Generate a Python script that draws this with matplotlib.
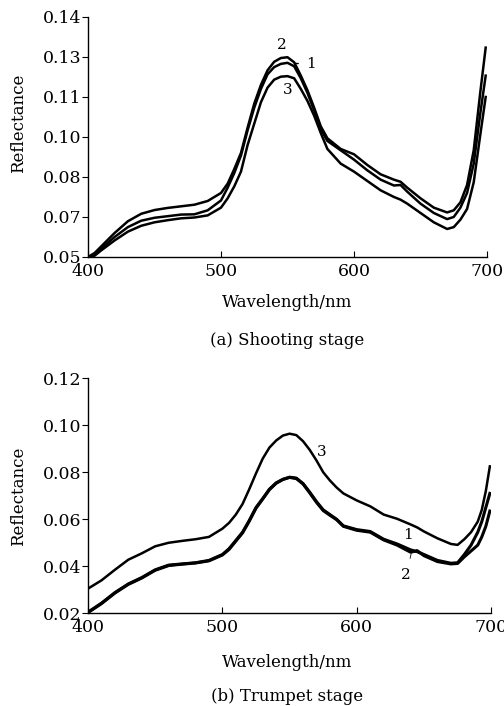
import numpy as np
import matplotlib
matplotlib.use("Agg")
from matplotlib import pyplot as plt

plt.rcParams['font.family'] = ['DejaVu Serif']

# (a) Shooting stage -- wavelength (nm) and reflectance of samples 1, 2, 3
wl_a = [400, 405, 410, 420, 430, 440, 450, 460, 470, 480, 490, 500, 505, 510,
        515, 520, 525, 530, 535, 540, 545, 550, 555, 560, 565, 570, 575, 580,
        590, 600, 610, 620, 630, 635, 640, 650, 660, 670, 675, 680, 685, 690,
        695, 699]
refl_a2 = [0.0500, 0.0515, 0.0540, 0.0590, 0.0634, 0.0662, 0.0676, 0.0684,
           0.0690, 0.0696, 0.0710, 0.0740, 0.0775, 0.0830, 0.0890, 0.0985,
           0.1075, 0.1145, 0.1200, 0.1232, 0.1246, 0.1249, 0.1230, 0.1180,
           0.1125, 0.1060, 0.0990, 0.0945, 0.0905, 0.0885, 0.0845, 0.0810,
           0.0790, 0.0782, 0.0760, 0.0720, 0.0685, 0.0667, 0.0675, 0.0705,
           0.0770, 0.0900, 0.1120, 0.1285]
refl_a1 = [0.0498, 0.0510, 0.0532, 0.0575, 0.0612, 0.0636, 0.0647, 0.0653,
           0.0659, 0.0660, 0.0675, 0.0712, 0.0760, 0.0815, 0.0880, 0.0975,
           0.1060, 0.1130, 0.1185, 0.1212, 0.1224, 0.1228, 0.1215, 0.1170,
           0.1115, 0.1050, 0.0980, 0.0935, 0.0900, 0.0865, 0.0825, 0.0790,
           0.0768, 0.0770, 0.0745, 0.0700, 0.0665, 0.0642, 0.0650, 0.0685,
           0.0740, 0.0850, 0.1040, 0.1180]
refl_a3 = [0.0495, 0.0505, 0.0525, 0.0562, 0.0595, 0.0617, 0.0630, 0.0638,
           0.0645, 0.0648, 0.0656, 0.0685, 0.0720, 0.0765, 0.0820, 0.0920,
           0.1000, 0.1080, 0.1135, 0.1165, 0.1176, 0.1178, 0.1170, 0.1130,
           0.1085, 0.1030, 0.0965, 0.0905, 0.0850, 0.0820, 0.0785, 0.0750,
           0.0725, 0.0715, 0.0700, 0.0665, 0.0630, 0.0605, 0.0612, 0.0640,
           0.0680, 0.0780, 0.0960, 0.1100]
yticks_a = [0.05, 0.065, 0.08, 0.095, 0.11, 0.125, 0.14]
ylabels_a = ['0.05', '0.07', '0.08', '0.10', '0.11', '0.13', '0.14']

# (b) Trumpet stage
wl_b = [400, 410, 420, 430, 440, 450, 460, 470, 480, 490, 500, 505, 510, 515,
        520, 525, 530, 535, 540, 545, 550, 555, 560, 565, 570, 575, 580, 585,
        590, 600, 610, 620, 630, 640, 645, 650, 660, 670, 675, 680, 685, 690,
        693, 696, 699]
refl_b3 = [0.0305, 0.0340, 0.0385, 0.0428, 0.0455, 0.0485, 0.0500, 0.0508,
           0.0515, 0.0525, 0.0560, 0.0585, 0.0620, 0.0665, 0.0728, 0.0795,
           0.0858, 0.0905, 0.0935, 0.0956, 0.0964, 0.0958, 0.0932, 0.0895,
           0.0850, 0.0800, 0.0765, 0.0735, 0.0710, 0.0680, 0.0655, 0.0620,
           0.0602, 0.0578, 0.0565, 0.0548, 0.0519, 0.0495, 0.0491, 0.0515,
           0.0545, 0.0590, 0.0640, 0.0720, 0.0825]
refl_b1 = [0.0205, 0.0243, 0.0288, 0.0325, 0.0352, 0.0385, 0.0405, 0.0410,
           0.0415, 0.0425, 0.0450, 0.0475, 0.0510, 0.0545, 0.0595, 0.0650,
           0.0688, 0.0728, 0.0755, 0.0770, 0.0779, 0.0775, 0.0752, 0.0715,
           0.0675, 0.0640, 0.0620, 0.0600, 0.0572, 0.0556, 0.0548, 0.0515,
           0.0495, 0.0470, 0.0462, 0.0450, 0.0425, 0.0413, 0.0415, 0.0450,
           0.0490, 0.0545, 0.0590, 0.0650, 0.0710]
refl_b2 = [0.0203, 0.0241, 0.0286, 0.0323, 0.0350, 0.0383, 0.0403, 0.0409,
           0.0414, 0.0423, 0.0448, 0.0472, 0.0507, 0.0542, 0.0592, 0.0647,
           0.0686, 0.0726, 0.0753, 0.0769, 0.0778, 0.0773, 0.0750, 0.0712,
           0.0672, 0.0637, 0.0617, 0.0598, 0.0570, 0.0553, 0.0545, 0.0512,
           0.0490, 0.0460, 0.0466, 0.0445, 0.0420, 0.0410, 0.0412, 0.0440,
           0.0465, 0.0490, 0.0525, 0.0570, 0.0635]
yticks_b = [0.02, 0.04, 0.06, 0.08, 0.10, 0.12]
xticks = [400, 500, 600, 700]

fig = plt.figure(figsize=(5.04, 7.06), dpi=100)
ax1 = fig.add_axes([0.1746, 0.636, 0.7917, 0.340])
ax2 = fig.add_axes([0.1746, 0.1313, 0.800, 0.333])

for ax in (ax1, ax2):
    for s in ('top', 'right'):
        ax.spines[s].set_visible(False)
    ax.spines['left'].set_linewidth(1.0)
    ax.spines['bottom'].set_linewidth(1.0)
    ax.set_xlim(400, 700)
    ax.set_xticks(xticks)
    ax.tick_params(axis='x', direction='in', length=4, labelsize=12.5, pad=4)
    ax.tick_params(axis='y', direction='out', length=4, labelsize=12.5, pad=1)

ax1.plot(wl_a, refl_a2, 'k-', lw=1.8)
ax1.plot(wl_a, refl_a1, 'k-', lw=1.8)
ax1.plot(wl_a, refl_a3, 'k-', lw=1.8)
ax1.set_ylim(0.05, 0.14)
ax1.set_yticks(yticks_a)
ax1.set_yticklabels(ylabels_a)

ax1.text(545.6, 0.1296, '2', fontsize=11, ha='center', va='center')
ax1.annotate('1', xy=(555.5, 0.1226), xytext=(568, 0.1222), fontsize=11,
             ha='center', va='center',
             arrowprops=dict(arrowstyle='-', lw=1.0, shrinkB=0, shrinkA=4))
ax1.text(550, 0.1127, '3', fontsize=11, ha='center', va='center')

ax2.plot(wl_b, refl_b3, 'k-', lw=1.8)
ax2.plot(wl_b, refl_b1, 'k-', lw=2.2)
ax2.plot(wl_b, refl_b2, 'k-', lw=2.2)
ax2.set_ylim(0.02, 0.12)
ax2.set_yticks(yticks_b)
ax2.set_yticklabels(['%.2f' % v for v in yticks_b])

ax2.text(574, 0.0888, '3', fontsize=11, ha='center', va='center')
ax2.annotate('1', xy=(646, 0.0455), xytext=(637.8, 0.0533), fontsize=11,
             ha='center', va='center',
             arrowprops=dict(arrowstyle='-', lw=0.6, shrinkB=0, shrinkA=4))
ax2.annotate('2', xy=(640.5, 0.0455), xytext=(636.8, 0.0363), fontsize=11,
             ha='center', va='center',
             arrowprops=dict(arrowstyle='-', lw=0.6, shrinkB=0, shrinkA=5))

fig.text(0.57, 0.572, 'Wavelength/nm', fontsize=12, ha='center', va='center')
fig.text(0.57, 0.518, '(a) Shooting stage', fontsize=12, ha='center', va='center')
fig.text(0.57, 0.061, 'Wavelength/nm', fontsize=12, ha='center', va='center')
fig.text(0.57, 0.014, '(b) Trumpet stage', fontsize=12, ha='center', va='center')
fig.text(0.036, 0.826, 'Reflectance', fontsize=12, rotation=90, ha='center', va='center')
fig.text(0.036, 0.2977, 'Reflectance', fontsize=12, rotation=90, ha='center', va='center')

fig.savefig('out.png', dpi=100)
